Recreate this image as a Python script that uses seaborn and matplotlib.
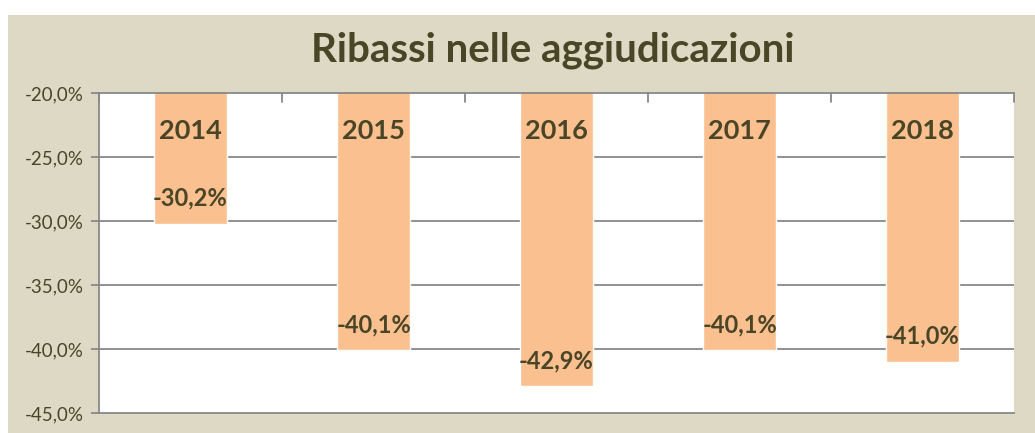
import matplotlib
matplotlib.use("Agg")
import matplotlib.pyplot as plt
import seaborn as sns
import pandas as pd
from matplotlib.patches import Rectangle

# Data
anni = ["2014", "2015", "2016", "2017", "2018"]
ribassi = [-30.2, -40.1, -42.9, -40.1, -41.0]
y_ticks = [-45, -40, -35, -30, -25, -20]

df = pd.DataFrame({"anno": anni, "ribasso": ribassi})

bg = "#DDD9C4"
bar_col = "#FAC090"
txt = "#4A4526"
grid_col = "#888888"

sns.set_theme(style="white")
plt.rcParams["font.family"] = ["Lato", "DejaVu Sans"]

fig = plt.figure(figsize=(10.35, 4.33), dpi=100, facecolor="white")
# beige chart area (the reference is cropped with a white strip top/left)
fig.patches.append(Rectangle((8 / 1035, 0), 1, 1 - 15 / 433, transform=fig.transFigure,
                             facecolor=bg, edgecolor="none", zorder=-10))

ax = fig.add_axes([99 / 1035, 1 - 413 / 433, (1014 - 99) / 1035, (413 - 93) / 433])
ax.set_facecolor("white")

sns.barplot(data=df, x="anno", y="ribasso", color=bar_col, saturation=1,
            width=0.4, ax=ax, zorder=2)

ax.set_ylim(-45, -20)
ax.set_xlim(-0.5, len(anni) - 0.5)
ax.set_yticks(y_ticks)
ax.set_yticklabels([f"{t:.1f}%".replace(".", ",") for t in y_ticks],
                   color=txt, fontsize=13.5)
ax.set_xticks([])
ax.set_xlabel("")
ax.set_ylabel("")

for t in y_ticks[1:-1]:
    ax.axhline(t, color=grid_col, lw=1.3, zorder=1)

for side in ["right"]:
    ax.spines[side].set_visible(False)
for side in ["left", "top", "bottom"]:
    ax.spines[side].set_color(grid_col)
    ax.spines[side].set_linewidth(1.3)
    ax.spines[side].set_zorder(3)

ax.tick_params(axis="y", which="both", left=True, length=6, width=1.3,
               color=grid_col, pad=5)

# category boundary ticks on top axis, pointing inside
for k in range(len(anni) + 1):
    ax.plot([k - 0.5, k - 0.5], [-20, -20.7], color=grid_col, lw=1.3,
            zorder=3, clip_on=False)

for i, (a, v) in enumerate(zip(anni, ribassi)):
    ax.text(i, -23.0, a, ha="center", va="center", fontsize=19.5,
            fontweight="bold", color=txt, zorder=4)
    ax.text(i, v + 2.0, f"{v:.1f}%".replace(".", ","), ha="center",
            va="center", fontsize=17, fontweight="bold", color=txt, zorder=4)

fig.text(553 / 1035, 1 - 50 / 433, "Ribassi nelle aggiudicazioni",
         ha="center", va="center", fontsize=29, fontweight="bold", color=txt)

fig.savefig("out.png", dpi=100, facecolor="white")
